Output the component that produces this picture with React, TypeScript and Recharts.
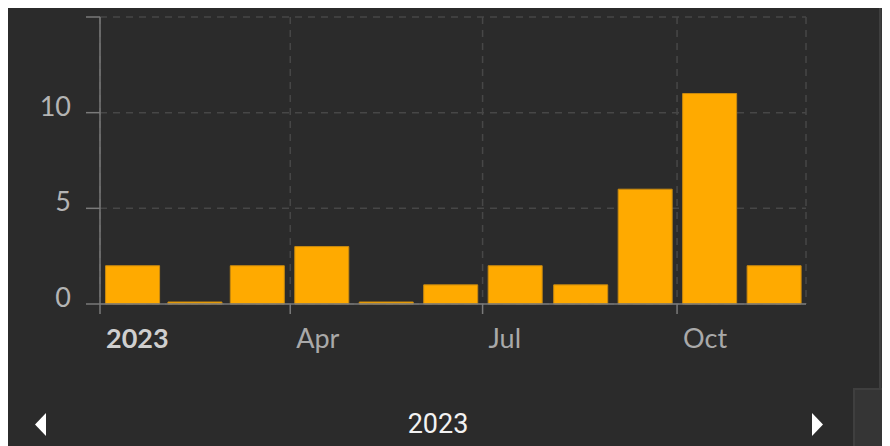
import { BarChart, Bar, XAxis, YAxis, CartesianGrid } from "recharts";

// monthly counts for 2023 (Jan..Nov)
const months = ["2023-01", "2023-02", "2023-03", "2023-04", "2023-05", "2023-06", "2023-07", "2023-08", "2023-09", "2023-10", "2023-11"];
const counts = [2, 0, 2, 3, 0, 1, 2, 1, 6, 11, 2];
const yTicks = [0, 5, 10, 15];
const xTickMonths = ["2023-01", "2023-04", "2023-07", "2023-10"];
const xTickLabels = ["2023", "Apr", "Jul", "Oct"];
const domainStart = "2023-01";
const domainEnd = "2023-12";
const yearLabel = "2023";

const toTime = (m: string, offset = 0) => {
  const [y, mo] = m.split("-").map(Number);
  return Date.UTC(y, mo - 1 + offset, 1);
};

const data = months.map((m, i) => ({
  t: (toTime(m) + toTime(m, 1)) / 2,
  v: counts[i],
}));

const xTicks = xTickMonths.map((m) => toTime(m));

const XTick = ({ x, y, payload, index }: any) => {
  const i = xTicks.indexOf(payload.value);
  const first = i === 0;
  return (
    <text
      x={x + 6}
      y={y}
      dy={32}
      textAnchor="start"
      fontFamily="Lato"
      fontSize={27}
      fontWeight={first ? 700 : 400}
      fill={first ? "#cfcfcf" : "#a9a9a9"}
    >
      {xTickLabels[i >= 0 ? i : index]}
    </text>
  );
};

const YTick = ({ x, y, payload }: any) => {
  if (payload.value === 15) return null;
  return (
    <text x={x - 13} y={y} dy={3} textAnchor="end" fontFamily="Lato" fontSize={27} fill="#b4b4b4">
      {payload.value}
    </text>
  );
};

export default function App() {
  return (
    <div style={{ position: "relative", width: 882, height: 438, background: "#2b2b2b", overflow: "hidden" }}>
      <BarChart
        width={871}
        height={380}
        data={data}
        margin={{ top: 9, right: 73, left: 0, bottom: 24 }}
      >
        <CartesianGrid stroke="#474747" strokeDasharray="7 6" strokeWidth={1.5} />
        <XAxis
          type="number"
          dataKey="t"
          domain={[toTime(domainStart), toTime(domainEnd)]}
          ticks={xTicks}
          allowDataOverflow
          stroke="#7a7a7a"
          strokeWidth={1.5}
          tickSize={10}
          height={60}
          tick={<XTick />}
        />
        <YAxis
          domain={[0, 15]}
          ticks={yTicks}
          width={92}
          stroke="#7a7a7a"
          strokeWidth={1.5}
          tickSize={14}
          tick={<YTick />}
        />
        <Bar
          dataKey="v"
          barSize={54}
          fill="#ffaa00"
          stroke="#c98a10"
          strokeWidth={1}
          minPointSize={2}
          isAnimationActive={false}
        />
      </BarChart>
      <div
        style={{
          position: "absolute",
          left: 0,
          right: 0,
          top: 400,
          textAlign: "center",
          paddingRight: 22,
          fontFamily: "Roboto",
          fontSize: 27,
          color: "#f2f2f2",
          lineHeight: "32px",
        }}
      >
        {yearLabel}
      </div>
      <svg style={{ position: "absolute", left: 27, top: 405 }} width={12} height={24}>
        <polygon points="11,0 11,23 0,11.5" fill="#ffffff" />
      </svg>
      <svg style={{ position: "absolute", left: 804, top: 405 }} width={12} height={24}>
        <polygon points="0,0 0,23 11,11.5" fill="#ffffff" />
      </svg>
      <div
        style={{
          position: "absolute",
          left: 871,
          top: 0,
          width: 11,
          height: 380,
          background: "#353535",
          borderLeft: "2px solid #3f3f3f",
          boxSizing: "border-box",
        }}
      />
      <div
        style={{
          position: "absolute",
          left: 845,
          top: 380,
          width: 37,
          height: 58,
          background: "#353535",
          borderLeft: "2px solid #3f3f3f",
          borderTop: "2px solid #3f3f3f",
          boxSizing: "border-box",
        }}
      />
    </div>
  );
}
